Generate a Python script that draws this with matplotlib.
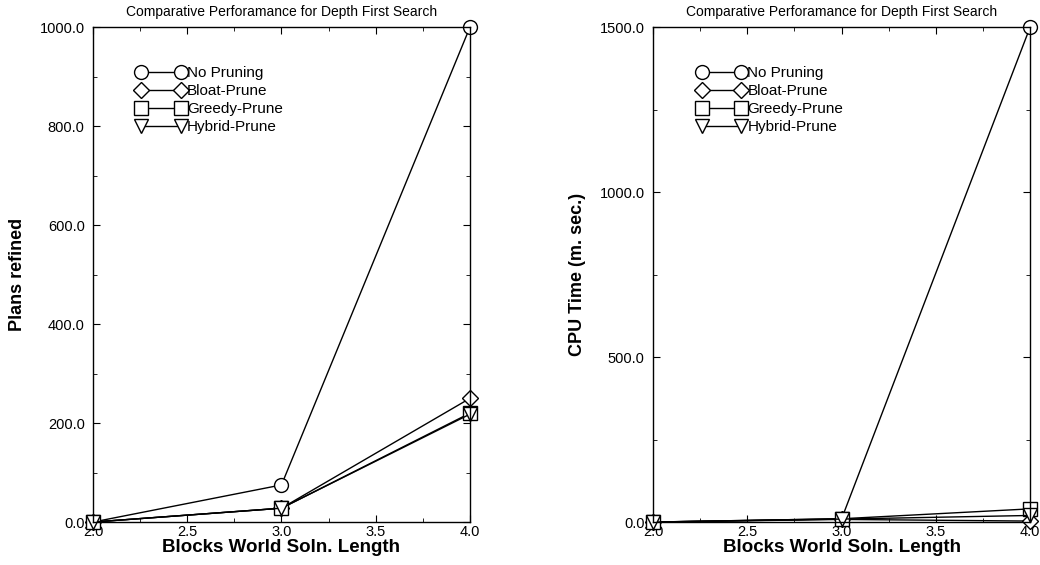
import numpy as np
import matplotlib
matplotlib.use("Agg")
from matplotlib import pyplot as plt
from matplotlib.ticker import MultipleLocator, FormatStrFormatter

plt.rcParams['font.family'] = ['Liberation Sans', 'DejaVu Sans']

# data
soln_len = [2.0, 3.0, 4.0]
labels = ['No Pruning', 'Bloat-Prune', 'Greedy-Prune', 'Hybrid-Prune']
markers = ['o', 'D', 's', 'v']

plans_nopr = [0, 75, 1000]
plans_bloat = [0, 28, 250]
plans_greedy = [0, 28, 220]
plans_hybrid = [0, 28, 218]

cpu_nopr = [0, 10, 1500]
cpu_bloat = [0, 8, 3]
cpu_greedy = [0, 10, 40]
cpu_hybrid = [0, 9, 20]

title = 'Comparative Perforamance for Depth First Search'


def draw(ax, series, ymax, ymajor, yminor, ylabel):
    for ys, m, lab in zip(series, markers, labels):
        ms = 8 if m == 'D' else 10
        ax.plot(soln_len, ys, color='black', lw=1, marker=m, ms=ms,
                mfc='white', mec='black', mew=1, label=lab, clip_on=False)
    ax.set_xlim(2.0, 4.0)
    ax.set_ylim(0, ymax)
    ax.xaxis.set_major_locator(MultipleLocator(0.5))
    ax.xaxis.set_minor_locator(MultipleLocator(0.25))
    ax.yaxis.set_major_locator(MultipleLocator(ymajor))
    ax.yaxis.set_minor_locator(MultipleLocator(yminor))
    ax.xaxis.set_major_formatter(FormatStrFormatter('%.1f'))
    ax.yaxis.set_major_formatter(FormatStrFormatter('%.1f'))
    ax.tick_params(which='both', direction='in', top=True, right=True,
                   labelsize=10.5)
    ax.tick_params(axis='x', pad=2)
    ax.tick_params(axis='y', pad=6)
    ax.tick_params(which='major', length=5)
    ax.tick_params(which='minor', length=3)
    for s in ax.spines.values():
        s.set_linewidth(1)
    ax.set_title(title, fontsize=10, pad=8)
    ax.set_xlabel('Blocks World Soln. Length', fontsize=13.5, fontweight='bold', labelpad=0)
    ax.set_ylabel(ylabel, fontsize=13, fontweight='bold')
    ax.yaxis.set_label_coords(-0.178, 0.5)
    ax.legend(loc='upper left', bbox_to_anchor=(0.1, 0.933), frameon=False,
              numpoints=2, handlelength=3.2, handletextpad=0.1,
              labelspacing=0.25, fontsize=11, borderaxespad=0)


fig = plt.figure(figsize=(10.4, 5.65), dpi=100)
ax1 = fig.add_axes([0.0894, 0.076, 0.3625, 0.876])
ax2 = fig.add_axes([0.628, 0.076, 0.3625, 0.876])

draw(ax1, [plans_nopr, plans_bloat, plans_greedy, plans_hybrid],
     1000, 200, 100, 'Plans refined')
draw(ax2, [cpu_nopr, cpu_bloat, cpu_greedy, cpu_hybrid],
     1500, 500, 250, 'CPU Time (m. sec.)')

fig.savefig('out.png', dpi=100)
